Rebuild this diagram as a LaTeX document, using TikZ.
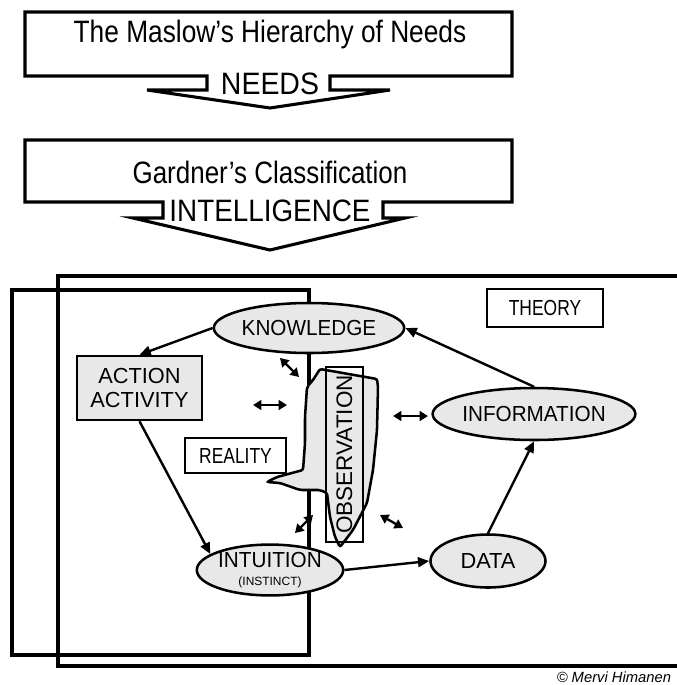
\documentclass[tikz,border=0pt]{standalone}
\usepackage{fontspec}
\setmainfont{Liberation Sans}
\usepackage{graphicx}
\usetikzlibrary{shapes.geometric}
\usetikzlibrary{arrows.meta}

\tikzset{
  bubble/.style={ellipse,draw,line width=1.8pt,fill=black!9,inner sep=0pt,font=\fontsize{15.5}{17}\selectfont},
  tag/.style={rectangle,draw,line width=1.8pt,inner sep=0pt,font=\fontsize{15.5}{17}\selectfont},
  flow/.style={line width=1.7pt,-{Triangle[length=8pt,width=7pt]}},
  twoway/.style={line width=1.7pt,{Triangle[length=6pt,width=7pt]}-{Triangle[length=6pt,width=7pt]}},
  frame/.style={line width=2.2pt},
  big/.style={font=\fontsize{22}{26}\selectfont},
}
\newcommand{\narrow}[2][0.85]{\scalebox{#1}[1]{#2}}

\begin{document}
\begin{tikzpicture}[x=0.025cm,y=-0.025cm]
\useasboundingbox (0,0) rectangle (677,685);

\draw[frame,line join=miter] (25,12) -- (512,12) -- (512,76) -- (330,76) -- (330,90) -- (390,90) -- (270,108) -- (147,90) -- (207,90) -- (207,76) -- (25,76) -- cycle;
\node[big] (maslow) at (270,34) {\narrow{The Maslow’s Hierarchy of Needs}};
\node[big] (needs) at (270,84) {\narrow[0.92]{NEEDS}};

\draw[frame,line join=miter] (25,140) -- (512,140) -- (512,202) -- (383,202) -- (383,218) -- (405,218) -- (270,250) -- (133,218) -- (163,218) -- (163,202) -- (25,202) -- cycle;
\node[big] (gardner) at (270,172) {\narrow[0.84]{Gardner’s Classification}};
\node[big] (intel) at (270,211) {\narrow[0.9]{INTELLIGENCE}};

\draw[frame] (677,276) -- (58,276) -- (58,666) -- (677,666);
\draw[frame] (12,290) rectangle (309,655);

\draw[line width=1.8pt,fill=black!9,rounded corners=1.5pt] (320,369) -- (377,379) -- (378,387) -- (377,430) -- (373,470) -- (367,503) -- (353,530) -- (340,547) -- (335,537) -- (330,517) -- (327,493) -- (320,490) -- (300,490) -- (280,483) -- (267,482) -- (277,477) -- (303,470) -- (305,443) -- (305,417) -- (307,387) -- (313,380) -- cycle;
\node[tag,rotate=90,minimum width=4.375cm,minimum height=0.925cm,font=\fontsize{16}{17}\selectfont] (obs) at (344.5,454.5) {OBSERVATION};

\node[bubble,minimum width=3.85cm,minimum height=1.25cm] (know) at (309,328) {\narrow[0.95]{KNOWLEDGE}};
\node[bubble,minimum width=4.3cm,minimum height=1.3cm] (info) at (534,414) {\narrow[0.95]{INFORMATION}};
\node[bubble,minimum width=2.875cm,minimum height=1.325cm] (data) at (488,561) {DATA};
\node[bubble,minimum width=3.025cm,minimum height=1.25cm,align=center] (intu) at (270,570) {\narrow[0.95]{INTUITION}\\[-4pt]{\fontsize{8.5}{10}\selectfont(INSTINCT)}};
\node[tag,fill=black!9,minimum width=3.125cm,minimum height=1.6cm,align=center] (act) at (139.5,388) {ACTION\\ACTIVITY};
\node[tag,minimum width=2.525cm,minimum height=0.875cm] (real) at (235.5,455.5) {\narrow[0.8]{REALITY}};
\node[tag,minimum width=2.9cm,minimum height=0.95cm] (theo) at (545,308) {\narrow[0.8]{THEORY}};

\draw[flow] (know.west) -- (act.north);
\draw[flow] (act.south) -- (intu.165);
\draw[flow] (intu.east) -- (data.west);
\draw[flow] (data.north) -- (info.south);
\draw[flow] (info.north) -- (know.east);

\coordinate (a1) at (280,358); \coordinate (b1) at (299,377);
\coordinate (a2) at (253,405); \coordinate (b2) at (287,405);
\coordinate (a3) at (295,533); \coordinate (b3) at (313,515);
\coordinate (a4) at (380,515); \coordinate (b4) at (403,528);
\coordinate (a5) at (393,416); \coordinate (b5) at (428,416);
\foreach \i in {1,...,5}
  \draw[twoway] (a\i) -- (b\i);

\node[font=\fontsize{10.5}{12}\selectfont\itshape,anchor=east] (copy) at (676,677) {© Mervi Himanen};

\end{tikzpicture}
\end{document}
